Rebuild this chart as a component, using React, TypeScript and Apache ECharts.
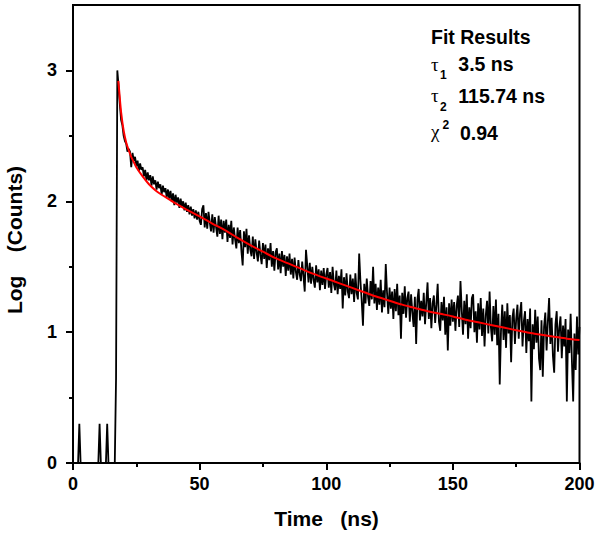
import React, { useEffect, useRef } from "react";
import * as echarts from "echarts";

// Sampling step of the measured decay (ns)
const TIME_STEP = 0.5;

// Measured log(counts), 0 – 17 ns (background + rise)
const riseCounts = [
  0, 0, 0, 0, 0, 0.3, 0, 0, 0, 0,
  0, 0, 0, 0, 0, 0, 0, 0, 0, 0,
  0, 0.3, 0, 0, 0, 0, 0, 0.3, 0, 0,
  0, 0, 0, 0, 0.65,
];

// 17.5 – 50 ns
const decayA = [
  3.0, 2.88, 2.74, 2.62, 2.58, 2.5, 2.46, 2.44, 2.38, 2.4,
  2.38, 2.26, 2.37, 2.31, 2.34, 2.27, 2.31, 2.23, 2.29, 2.24,
  2.26, 2.19, 2.24, 2.16, 2.22, 2.16, 2.2, 2.12, 2.19, 2.13,
  2.16, 2.09, 2.15, 2.1, 2.13, 2.05, 2.12, 2.07, 2.1, 2.03,
  2.09, 2.02, 2.08, 2.0, 2.06, 1.97, 2.05, 1.99, 2.03, 1.95,
  2.02, 1.96, 2.0, 1.93, 1.99, 1.92, 1.97, 1.9, 1.96, 1.89,
  1.94, 1.87, 1.93, 1.86, 1.92, 1.85,
];

// 50.5 – 100 ns
const decayB = [
  1.82, 1.94, 1.97, 1.8, 1.91, 1.79, 1.92, 1.84, 1.77, 1.9,
  1.76, 1.88, 1.8, 1.73, 1.89, 1.75, 1.86, 1.71, 1.85, 1.76,
  1.86, 1.69, 1.82, 1.72, 1.85, 1.67, 1.8, 1.71, 1.64, 1.8,
  1.68, 1.78, 1.62, 1.51, 1.77, 1.65, 1.79, 1.6, 1.74, 1.63,
  1.58, 1.73, 1.56, 1.71, 1.61, 1.54, 1.7, 1.59, 1.52, 1.68,
  1.56, 1.67, 1.49, 1.64, 1.55, 1.68, 1.5, 1.62, 1.47, 1.61,
  1.64, 1.48, 1.6, 1.45, 1.62, 1.5, 1.59, 1.43, 1.58, 1.47,
  1.6, 1.44, 1.56, 1.41, 1.57, 1.46, 1.4, 1.55, 1.44, 1.39,
  1.54, 1.43, 1.31, 1.63, 1.51, 1.38, 1.53, 1.37, 1.5, 1.4,
  1.34, 1.51, 1.38, 1.48, 1.32, 1.47, 1.36, 1.49, 1.33, 1.44,
];

// 100.5 – 150 ns
const decayC = [
  1.49, 1.34, 1.46, 1.3, 1.5, 1.37, 1.32, 1.47, 1.29, 1.43,
  1.33, 1.48, 1.18, 1.42, 1.28, 1.45, 1.31, 1.26, 1.44, 1.29,
  1.41, 1.23, 1.45, 1.3, 1.25, 1.6, 1.39, 1.24, 1.05, 1.37,
  1.22, 1.41, 1.27, 1.2, 1.39, 1.25, 1.5, 1.22, 1.37, 1.17,
  1.34, 1.21, 1.4, 1.15, 1.32, 1.19, 1.52, 1.3, 1.14, 1.34,
  1.18, 1.31, 1.1, 1.33, 1.16, 1.37, 1.13, 1.28, 0.95, 1.3,
  1.14, 1.35, 1.11, 1.26, 1.31, 1.08, 1.29, 1.15, 1.04, 1.27,
  0.91, 1.25, 1.33, 1.09, 1.24, 1.12, 1.3, 1.06, 1.23, 1.38,
  1.1, 1.26, 1.03, 1.22, 1.28, 1.07, 1.21, 1.37, 1.08, 1.01,
  1.23, 1.09, 1.27, 0.98, 1.19, 0.86, 1.22, 1.05, 1.25, 1.08,
];

// 150.5 – 200 ns
const decayD = [
  1.23, 1.01, 1.2, 1.28, 1.04, 1.39, 1.17, 0.98, 1.24, 1.06,
  1.29, 0.95, 1.19, 1.03, 1.26, 1.29, 1.0, 1.16, 0.92, 1.22,
  1.02, 1.26, 0.97, 1.18, 0.89, 1.13, 1.24, 0.99, 1.31, 1.04,
  0.93, 1.2, 0.98, 1.25, 0.9, 1.14, 0.6, 1.01, 1.21, 0.94,
  1.16, 0.88, 1.22, 0.99, 1.13, 0.77, 1.11, 1.18, 0.91, 1.1,
  1.21, 0.95, 1.14, 1.23, 0.89, 1.08, 1.16, 0.84, 1.1, 0.93,
  1.18, 0.47, 1.06, 0.87, 1.17, 0.92, 1.12, 0.8, 0.71, 1.09,
  0.66, 1.04, 1.15, 0.86, 1.08, 1.26, 0.91, 1.11, 0.82, 0.69,
  1.06, 1.16, 0.85, 1.03, 1.12, 0.8, 1.05, 0.89, 1.1, 0.47,
  1.02, 0.84, 1.14, 0.78, 0.47, 0.99, 0.71, 1.12, 0.83, 1.04,
];

// Fitted curve (red)
const fitTimes = [
  17.9, 18.3, 19, 20, 21, 22, 23, 24, 25, 27.5, 30, 32.5, 35, 37.5, 40,
  45, 50, 55, 60, 65, 70, 75, 80, 85, 90, 95, 100, 105, 110, 115, 120,
  125, 130, 135, 140, 145, 150, 155, 160, 165, 170, 175, 180, 185, 190,
  195, 200,
];
const fitValues = [
  2.92, 2.83, 2.68, 2.54, 2.45, 2.39, 2.34, 2.3, 2.26, 2.19, 2.13, 2.085,
  2.05, 2.02, 1.99, 1.935, 1.885, 1.83, 1.78, 1.72, 1.665, 1.615, 1.565,
  1.525, 1.485, 1.445, 1.41, 1.375, 1.34, 1.305, 1.27, 1.24, 1.21, 1.185,
  1.16, 1.14, 1.12, 1.095, 1.075, 1.055, 1.035, 1.015, 0.995, 0.98, 0.965,
  0.95, 0.94,
];

const yMajorTicks = [0, 1, 2, 3];
const yMinorTicks = [0.5, 1.5, 2.5];

const FONT = "'Liberation Sans', Arial, sans-serif";
const SERIF = "'Liberation Serif', 'DejaVu Serif', serif";

export default function App() {
  const ref = useRef<HTMLDivElement>(null);

  useEffect(() => {
    const chart = echarts.init(ref.current!, null, { renderer: "svg" });
    const counts = [...riseCounts, ...decayA, ...decayB, ...decayC, ...decayD];
    const measured = counts.map((v, i) => [i * TIME_STEP, v]);
    const fit = fitTimes.map((t, i) => [t, fitValues[i]]);

    const axisLine = { show: true, lineStyle: { color: "#000", width: 2 } };
    const labelStyle = {
      color: "#000",
      fontFamily: FONT,
      fontWeight: "bold" as const,
      fontSize: 18,
    };
    const bold = (size: number) => ({
      fill: "#000",
      font: `bold ${size}px ${FONT}`,
    });

    chart.setOption({
      animation: false,
      backgroundColor: "#fff",
      grid: {
        left: 73,
        right: 20.5,
        top: 5,
        bottom: 76,
        show: true,
        borderColor: "#000",
        borderWidth: 2,
        backgroundColor: "transparent",
        containLabel: false,
        outerBoundsMode: "none",
      },
      xAxis: {
        type: "value",
        min: 0,
        max: 200,
        interval: 50,
        axisLine,
        axisTick: { show: true, inside: false, length: 7, lineStyle: { color: "#000", width: 2 } },
        minorTick: { show: true, splitNumber: 2, length: 4, lineStyle: { color: "#000", width: 2 } },
        splitLine: { show: false },
        minorSplitLine: { show: false },
        axisLabel: { ...labelStyle, margin: 12 },
      },
      yAxis: [
        {
          type: "value",
          min: 0,
          max: 3.5,
          position: "left",
          axisLine,
          axisTick: {
            show: true,
            inside: false,
            length: 7,
            customValues: yMajorTicks,
            lineStyle: { color: "#000", width: 2 },
          },
          axisLabel: { ...labelStyle, margin: 16, customValues: yMajorTicks },
          splitLine: { show: false },
        },
        {
          type: "value",
          min: 0,
          max: 3.5,
          position: "left",
          offset: 0,
          axisLine: { show: false },
          axisTick: {
            show: true,
            inside: false,
            length: 4,
            customValues: yMinorTicks,
            lineStyle: { color: "#000", width: 2 },
          },
          axisLabel: { show: false },
          splitLine: { show: false },
        },
      ],
      series: [
        {
          name: "measured",
          type: "line",
          data: measured,
          showSymbol: false,
          symbol: "none",
          lineStyle: { color: "#000", width: 1.8 },
          clip: true,
          z: 2,
        },
        {
          name: "fit",
          type: "line",
          data: fit,
          showSymbol: false,
          symbol: "none",
          smooth: 0.3,
          lineStyle: { color: "#ff0000", width: 2 },
          clip: true,
          z: 3,
        },
      ],
      graphic: [
        {
          type: "text",
          x: 14,
          y: 240,
          rotation: Math.PI / 2,
          style: { ...bold(21), text: "Log    (Counts)", align: "center", verticalAlign: "middle" },
        },
        {
          type: "text",
          x: 326.5,
          y: 518,
          style: { ...bold(21), text: "Time   (ns)", align: "center", verticalAlign: "middle" },
        },
        {
          type: "text",
          x: 431,
          y: 37,
          style: { ...bold(19.5), text: "Fit Results", align: "left", verticalAlign: "middle" },
        },
        {
          type: "text",
          x: 431,
          y: 64,
          style: { fill: "#000", font: `19px ${SERIF}`, text: "τ", align: "left", verticalAlign: "middle" },
        },
        {
          type: "text",
          x: 440,
          y: 75,
          style: { ...bold(12), text: "1", align: "left", verticalAlign: "middle" },
        },
        {
          type: "text",
          x: 458.3,
          y: 63.7,
          style: { ...bold(19.5), text: "3.5 ns", align: "left", verticalAlign: "middle" },
        },
        {
          type: "text",
          x: 431,
          y: 95,
          style: { fill: "#000", font: `19px ${SERIF}`, text: "τ", align: "left", verticalAlign: "middle" },
        },
        {
          type: "text",
          x: 440,
          y: 107,
          style: { ...bold(12), text: "2", align: "left", verticalAlign: "middle" },
        },
        {
          type: "text",
          x: 458.3,
          y: 95.5,
          style: { ...bold(19.5), text: "115.74 ns", align: "left", verticalAlign: "middle" },
        },
        {
          type: "text",
          x: 431,
          y: 131,
          style: { fill: "#000", font: `19px ${SERIF}`, text: "χ", align: "left", verticalAlign: "middle" },
        },
        {
          type: "text",
          x: 442.5,
          y: 125,
          style: { ...bold(12), text: "2", align: "left", verticalAlign: "middle" },
        },
        {
          type: "text",
          x: 460,
          y: 133,
          style: { ...bold(19.5), text: "0.94", align: "left", verticalAlign: "middle" },
        },
      ],
    });

    return () => chart.dispose();
  }, []);

  return (
    <div
      ref={ref}
      style={{ position: "fixed", left: 0, top: 0, width: 600, height: 539, background: "#fff" }}
    />
  );
}
